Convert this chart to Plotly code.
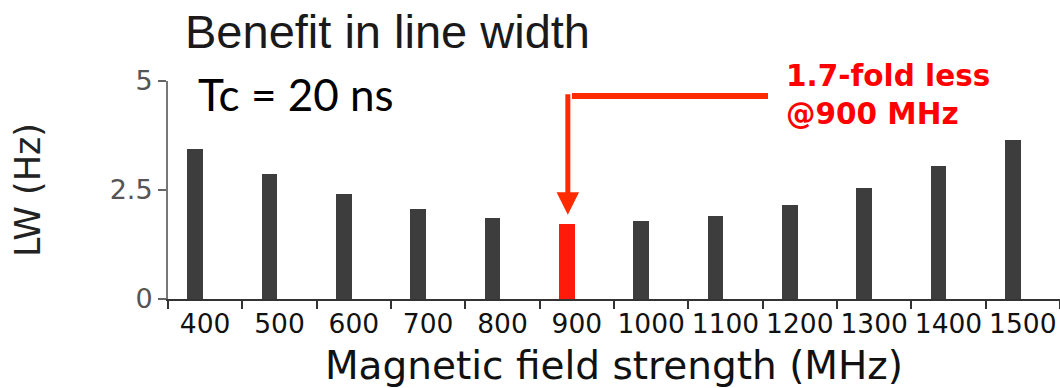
import plotly.graph_objects as go

# ---- data ----
fields = ["400", "500", "600", "700", "800", "900", "1000", "1100", "1200", "1300", "1400", "1500"]
lw_hz = [3.45, 2.86, 2.40, 2.07, 1.86, 1.73, 1.78, 1.91, 2.16, 2.55, 3.04, 3.65]
highlight = "900"
y_ticks = [0, 2.5, 5]
y_ticklabels = ["0", "2.5", "5"]

GREY_BAR = "#3d3d3d"
RED_BAR = "#ff1a0a"
colors = [RED_BAR if f == highlight else GREY_BAR for f in fields]

SANS = "DejaVu Sans, sans-serif"

# plot area pixel geometry (for annotation placement)
L, R, T, B = 168, 1060, 81, 299
def px(x):
    return (x - L) / (R - L)
def py(y):
    return (B - y) / (B - T)

fig = go.Figure()
fig.add_trace(go.Bar(
    x=fields, y=lw_hz, marker=dict(color=colors, line=dict(width=0)),
    width=0.215, offset=-0.242, showlegend=False,
))

fig.update_layout(
    width=1060, height=388, autosize=False,
    margin=dict(l=L, r=1060 - R, t=T, b=388 - B, pad=0),
    plot_bgcolor="white", paper_bgcolor="white",
    bargap=0,
    xaxis=dict(
        type="category", range=[-0.5, 11.5], tickson="boundaries", tickangle=0,
        automargin=False,
        ticks="outside", ticklen=8, tickwidth=2, tickcolor="#333",
        showline=True, linecolor="#333", linewidth=2, showgrid=False,
        tickfont=dict(family=SANS, size=26.5, color="#111"),
        title=dict(text="Magnetic field strength (MHz)",
                   font=dict(family=SANS, size=39, color="#111"), standoff=14),
    ),
    yaxis=dict(
        range=[0, 5], tickvals=y_ticks, ticktext=y_ticklabels, automargin=False,
        ticks="outside", ticklen=8, tickwidth=2, tickcolor="#666",
        showline=True, linecolor="#777", linewidth=2, showgrid=False, zeroline=False,
        tickfont=dict(family=SANS, size=27, color="#555"),
        title=dict(text="LW (Hz)", font=dict(family=SANS, size=35, color="#222"), standoff=58),
    ),
)

# chart title
fig.add_annotation(
    xref="paper", yref="paper", x=px(183), y=py(31), xanchor="left", yanchor="middle",
    text="Benefit in line width", showarrow=False,
    font=dict(family="Liberation Sans, Arial, sans-serif", size=47, color="#1a1a1a"),
)
# Tc label
fig.add_annotation(
    xref="paper", yref="paper", x=px(196), y=py(94), xanchor="left", yanchor="middle",
    text="Tc = 20 ns", showarrow=False,
    font=dict(family="Lato, Open Sans, sans-serif", size=44, color="#000"),
)
# red callout text
fig.add_annotation(
    xref="paper", yref="paper", x=px(784), y=py(95), xanchor="left", yanchor="middle",
    text="1.7-fold less<br>@900 MHz", showarrow=False, align="left",
    font=dict(family=SANS, size=29.5, color="#ff0000", weight="bold"),
)
# arrow pointing at highlighted bar (category index used for position)
hi = fields.index(highlight)
fig.add_annotation(
    x=hi, y=lw_hz[hi] + 0.2, xref="x", yref="y", xshift=-9,
    ax=0, ay=-122, axref="pixel", ayref="pixel",
    showarrow=True, arrowhead=2, arrowsize=0.9, arrowwidth=5, arrowcolor="#ff2a00",
    text="",
)
# horizontal leader line
fig.add_shape(
    type="line", xref="paper", yref="paper",
    x0=px(572), x1=px(768), y0=py(96), y1=py(96),
    line=dict(color="#ff2a00", width=6),
)

fig.write_html("out.html")
